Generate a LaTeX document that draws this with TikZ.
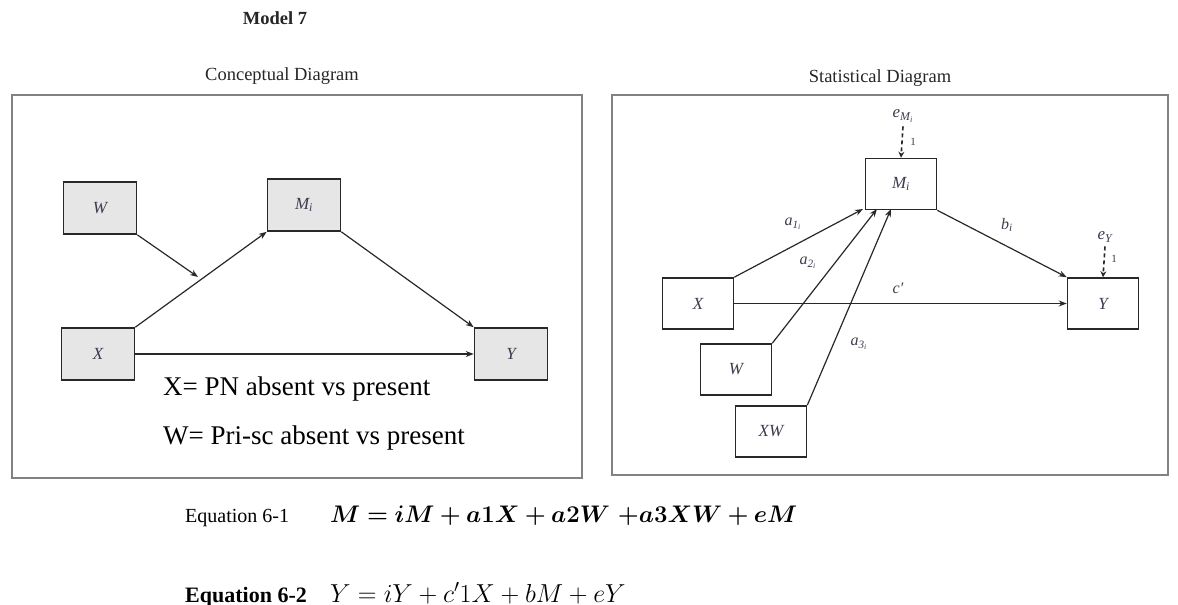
\documentclass[tikz,border=0pt]{standalone}
\usepackage{fix-cm}
\usepackage{bm}
\usepackage{fontspec}
\setmainfont{Liberation Serif}
\usetikzlibrary{arrows.meta}
\definecolor{labelcol}{RGB}{60,60,78}
\definecolor{linecol}{RGB}{40,40,40}
\definecolor{framecol}{RGB}{130,130,130}
\definecolor{boxfill}{RGB}{230,230,230}
\begin{document}
\begin{tikzpicture}[x=1pt,y=-1pt,
  frame/.style={draw=framecol, line width=1.2pt},
  cbox/.style={draw=linecol, line width=1.6pt, fill=boxfill, minimum width=73pt,
    minimum height=52pt, inner sep=0pt, text=labelcol,
    font=\fontsize{17}{17}\selectfont\itshape},
  sbox/.style={draw=linecol, line width=1.6pt, fill=white, minimum width=71pt,
    minimum height=51pt, inner sep=0pt, text=labelcol,
    font=\fontsize{17}{17}\selectfont\itshape},
  path/.style={draw=linecol, line width=1.2pt, -{Stealth[length=8pt,width=6pt]}},
  errpath/.style={draw=linecol, line width=1.6pt, dash pattern=on 4pt off 3pt,
    -{Stealth[length=6pt,width=6pt]}},
  coef/.style={text=labelcol, font=\fontsize{16}{16}\selectfont\itshape, inner sep=0pt},
  one/.style={text=labelcol, font=\fontsize{11}{11}\selectfont, inner sep=0pt},
  heading/.style={text=black!85, font=\fontsize{18.5}{18.5}\selectfont, inner sep=0pt, anchor=base},
  note/.style={font=\fontsize{27}{27}\selectfont, inner sep=0pt, anchor=base west},
  eqtext/.style={font=\fontsize{20}{20}\selectfont, inner sep=0pt, anchor=base west},
  eqmath/.style={font=\fontsize{26}{26}\selectfont, inner sep=0pt, anchor=base west}
]
\useasboundingbox (0,0) rectangle (1178,605);

% titles
\node[heading, font=\fontsize{18.5}{18.5}\selectfont\bfseries] (title) at (275,24) {Model 7};
\node[heading] (ctitle) at (282,80) {Conceptual Diagram};
\node[heading] (stitle) at (880,82) {Statistical Diagram};

% frames
\draw[frame] (12,95) rectangle (582,478);
\draw[frame] (612,95) rectangle (1168,475);

% ---- conceptual diagram ----
\node[cbox] (cW) at (100,208) {W};
\node[cbox] (cM) at (304,205) {M\textsubscript{\textit{i}}};
\node[cbox] (cX) at (98,354) {X};
\node[cbox] (cY) at (511,354) {Y};
\coordinate (mod) at (198,277);
\draw[path] (cX.north east) -- (cM.south west);
\draw[path] (cW.south east) -- (mod);
\draw[path] (cM.south east) -- (cY.north west);
\draw[path] (cX.east) -- (cY.west);
\node[note] (xnote) at (163,395) {X= PN absent vs present};
\node[note] (wnote) at (163,444) {W= Pri-sc absent vs present};

% ---- statistical diagram ----
\node[sbox] (sM) at (901,184) {M\textsubscript{\textit{i}}};
\node[sbox] (sX) at (698,303.5) {X};
\node[sbox] (sW) at (736,369.5) {W};
\node[sbox] (sXW) at (771,431.5) {XW};
\node[sbox] (sY) at (1103,303.5) {Y};

\node[coef, font=\fontsize{17}{17}\selectfont\itshape] (eM) at (903,116) {e\textsubscript{M\textsubscript{i}}};
\node[coef, font=\fontsize{17}{17}\selectfont\itshape] (eY) at (1105,237) {e\textsubscript{Y}};
\draw[errpath] (eM.south) ++(0,4) coordinate (eMs) (eMs) -- (sM.north);
\draw[errpath] (eY.south) ++(0,4) coordinate (eYs) (eYs) -- (sY.north);
\node[one] (oneM) at (913,142) {1};
\node[one] (oneY) at (1114,259) {1};

\coordinate (tX) at (863,209);
\coordinate (tW) at (877,209);
\coordinate (tXW) at (891,209);
\draw[path] (sX.north east) -- (tX);
\draw[path] (sW.north east) -- (tW);
\draw[path] (sXW.north east) -- (tXW);
\draw[path] (sM.south east) -- (sY.north west);
\draw[path] (sX.east) -- (sY.west);

\node[coef] (a1) at (793,224) {a\textsubscript{1\textsubscript{i}}};
\node[coef] (a2) at (808,263) {a\textsubscript{2\textsubscript{i}}};
\node[coef] (a3) at (859,344) {a\textsubscript{3\textsubscript{i}}};
\node[coef] (b) at (1007,225) {b\textsubscript{i}};
\node[coef] (c) at (898,288) {c′};

% ---- equations ----
\node[eqtext] (eq1l) at (185,522) {Equation 6-1};
\node[eqmath, font=\fontsize{24}{24}\selectfont] (eq1) at (330,522)
  {$\bm{M = iM + a1X + a2W \mskip6mu {+}a3XW + eM}$};
\node[eqtext, font=\fontsize{22}{22}\selectfont\bfseries] (eq2l) at (185,602) {Equation 6-2};
\node[eqmath] (eq2) at (330,602) {$Y = iY + c^{\prime}1X + bM + eY$};
\end{tikzpicture}
\end{document}
